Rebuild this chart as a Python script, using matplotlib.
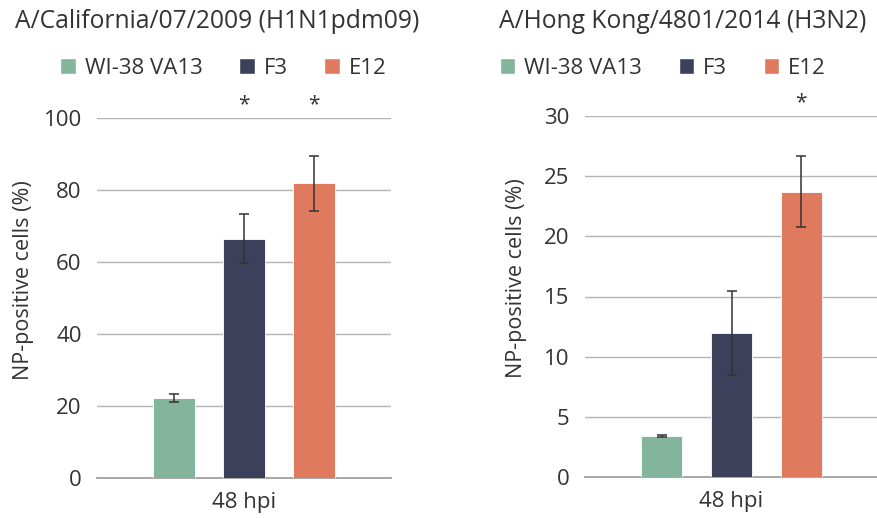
import matplotlib
matplotlib.use("Agg")
import matplotlib.pyplot as plt
from matplotlib.patches import Patch

plt.rcParams['font.family'] = ['Open Sans', 'DejaVu Sans']

groups = ["WI-38 VA13", "F3", "E12"]
colors = ["#82b59b", "#3d405b", "#e07a5f"]
xlabel = "48 hpi"

titles = ["A/California/07/2009 (H1N1pdm09)", "A/Hong Kong/4801/2014 (H3N2)"]
vals_h1 = [22.2, 66.5, 81.9]
errs_h1 = [1.0, 6.8, 7.6]
vals_h3 = [3.4, 11.95, 23.7]
errs_h3 = [0.1, 3.5, 2.95]
stars_h1 = ["", "*", "*"]
stars_h3 = ["", "", "*"]
ymax = [100, 30]
ystep = [20, 5]

fig = plt.figure(figsize=(8.78, 5.18), dpi=100)
ax1 = fig.add_axes([97 / 878, 1 - 478 / 518, 294 / 878, 360 / 518])
ax2 = fig.add_axes([585 / 878, 1 - 477 / 518, 293 / 878, 361 / 518])

panels = [(ax1, vals_h1, errs_h1, stars_h1), (ax2, vals_h3, errs_h3, stars_h3)]
label_x = [-0.215, -0.198]
for i, (ax, vals, errs, stars) in enumerate(panels):
    xs = range(len(groups))
    ax.bar(xs, vals, width=0.59, color=colors, edgecolor="white", linewidth=0.6,
           zorder=3)
    ax.errorbar(xs, vals, yerr=errs, fmt="none", ecolor="#333333", elinewidth=1.1,
                capsize=3.5, capthick=1.1, zorder=4)
    for x, v, s in zip(xs, vals, stars):
        if s:
            ax.annotate(s, (x, ymax[i]), xytext=(0, 2), textcoords="offset points",
                        ha="center", va="bottom", fontsize=15, color="#333333",
                        annotation_clip=False)
    ax.set_xlim(-1.1, 3.1)
    ax.set_ylim(0, ymax[i])
    ax.set_yticks(range(0, ymax[i] + 1, ystep[i]))
    ax.set_xticks([1])
    ax.set_xticklabels([xlabel])
    ax.yaxis.grid(True, color="#b4b4b4", linewidth=1.0, zorder=0)
    ax.set_axisbelow(True)
    for sp in ["top", "right", "left"]:
        ax.spines[sp].set_visible(False)
    ax.spines["bottom"].set_color("#a0a0a0")
    ax.spines["bottom"].set_linewidth(1.3)
    ax.tick_params(axis="both", length=0, labelsize=16, labelcolor="#333333")
    ax.tick_params(axis="y", pad=11)
    ax.tick_params(axis="x", pad=10)
    ax.set_ylabel("NP-positive cells (%)", fontsize=15.5, color="#333333")
    ax.yaxis.set_label_coords(label_x[i], 0.55)

fig.text(217.5 / 878, 1 - 22 / 518, titles[0], ha="center", va="center",
         fontsize=17.7, color="#333333")
fig.text(683 / 878, 1 - 22 / 518, titles[1], ha="center", va="center",
         fontsize=17.7, color="#333333")

handles = [Patch(facecolor=c, edgecolor="white", label=g) for g, c in zip(groups, colors)]
for cx in [223.5, 663]:
    fig.legend(handles=handles, loc="center", bbox_to_anchor=(cx / 878, 1 - 68 / 518),
               ncol=3, frameon=False, fontsize=16, handlelength=0.7, handleheight=0.7,
               handletextpad=0.4, columnspacing=1.65, labelcolor="#333333",
               borderpad=0, borderaxespad=0)

fig.savefig("out.png", dpi=100)
